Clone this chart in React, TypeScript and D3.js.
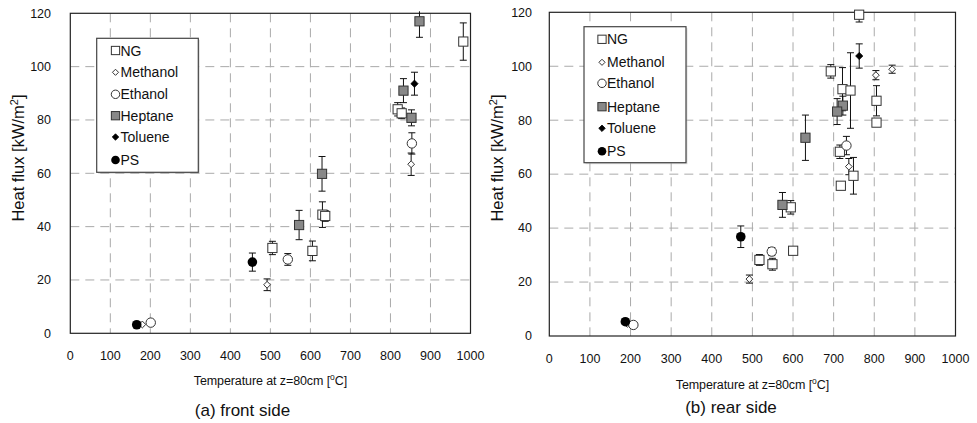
import React from "react";
import * as d3 from "d3";

// ---- data: [temperature °C, heat flux kW/m², error ±] ----
const xTicks = [0, 100, 200, 300, 400, 500, 600, 700, 800, 900, 1000];
const yTicks = [0, 20, 40, 60, 80, 100, 120];
const seriesNames = ["NG", "Methanol", "Ethanol", "Heptane", "Toluene", "PS"];

const frontNG = [[982, 109.4, 7], [818, 84, 2.5], [828, 82.5, 2], [630, 44.5, 4.8], [637, 44, 2], [605, 30.9, 3.7], [505, 32, 2.5]];
const frontMethanol = [[851.7, 63.4, 4.2], [491.7, 18.2, 2.2], [180, 3.3, 0]];
const frontEthanol = [[853.5, 71.2, 4], [543.5, 27.7, 2.2], [201, 4, 0]];
const frontHeptane = [[872.5, 117, 6], [832.5, 91, 4.5], [852.5, 80.8, 3], [629, 59.8, 6.5], [571.7, 40.6, 5.5]];
const frontToluene = [[860, 93.6, 4.3]];
const frontPS = [[455, 26.7, 3.4], [166, 3.2, 0]];

const rearNG = [[762.8, 119.1, 2.7], [693, 98.1, 2.5], [721.8, 91.5, 8], [741.5, 91, 14], [805.5, 87.2, 5.6], [805.5, 79.1, 0], [715.3, 68.3, 2.5], [748.8, 59.4, 6.8], [717.7, 55.7, 0], [594.5, 47.7, 2.5], [517.3, 28.2, 2], [549.3, 26.6, 2.2], [600.3, 31.6, 0]];
const rearMethanol = [[804, 96.7, 1.7], [844, 98.9, 1.5], [737.4, 62.8, 3], [492.6, 21.1, 1.5], [192, 4.5, 0]];
const rearEthanol = [[731.5, 70.6, 3.4], [547.7, 31.3, 1.5], [207, 4.1, 0]];
const rearHeptane = [[722.7, 85.4, 3.5], [708.6, 83.2, 4.8], [630.6, 73.5, 8.4], [574, 48.6, 4.6]];
const rearToluene = [[763, 103.8, 4.5]];
const rearPS = [[471.4, 36.8, 4], [187.2, 5.3, 1]];

const FONT = "'Liberation Sans', Arial, Helvetica, sans-serif";

function Marker({ name, x, y, s = 1 }: { name: string; x: number; y: number; s?: number }) {
  const stroke = "#333";
  switch (name) {
    case "NG":
      return <rect x={x - 4.6 * s} y={y - 4.6 * s} width={9.2 * s} height={9.2 * s} fill="#fff" stroke={stroke} strokeWidth={1} />;
    case "Heptane":
      return <rect x={x - 4.6 * s} y={y - 4.6 * s} width={9.2 * s} height={9.2 * s} fill="#888" stroke={stroke} strokeWidth={1} />;
    case "Methanol": {
      const r = 3.4 * s;
      return <path d={`M${x},${y - r}L${x + r},${y}L${x},${y + r}L${x - r},${y}Z`} fill="#fff" stroke={stroke} strokeWidth={1} />;
    }
    case "Toluene": {
      const r = 3.6 * s;
      return <path d={`M${x},${y - r}L${x + r},${y}L${x},${y + r}L${x - r},${y}Z`} fill="#000" stroke="#000" strokeWidth={0.8} />;
    }
    case "Ethanol":
      return <circle cx={x} cy={y} r={4.7 * s} fill="#fff" stroke={stroke} strokeWidth={1} />;
    case "PS":
      return <circle cx={x} cy={y} r={4.8 * s} fill="#000" />;
    default:
      return null;
  }
}

type Pt = number[];

function Panel({ left, right, top, bottom, series, legend, yTickRight, xTickBase, yLabelX, xTitleY, caption, captionY }: any) {
  const x = d3.scaleLinear().domain([0, 1000]).range([left, right]);
  const y = d3.scaleLinear().domain([0, 120]).range([bottom, top]);
  const cx = (left + right) / 2;
  return (
    <g fontFamily={FONT}>
      {/* grid */}
      {xTicks.slice(1, -1).map((t) => (
        <line key={"gx" + t} x1={x(t)} x2={x(t)} y1={top} y2={bottom} stroke="#aaa" strokeWidth={1} strokeDasharray="9,6" />
      ))}
      {yTicks.slice(1, -1).map((t) => (
        <line key={"gy" + t} x1={left} x2={right} y1={y(t)} y2={y(t)} stroke="#aaa" strokeWidth={1} strokeDasharray="9,6" />
      ))}
      <rect x={left} y={top} width={right - left} height={bottom - top} fill="none" stroke="#222" strokeWidth={1.2} />
      {/* ticks labels */}
      {yTicks.map((t) => (
        <text key={"yt" + t} x={yTickRight} y={y(t) + 4.3} textAnchor="end" fontSize={12.5} fill="#111">{t}</text>
      ))}
      {xTicks.map((t) => (
        <text key={"xt" + t} x={x(t)} y={xTickBase} textAnchor="middle" fontSize={12.5} fill="#111">{t}</text>
      ))}
      {/* axis titles */}
      <text transform={`translate(${yLabelX},${158}) rotate(-90)`} textAnchor="middle" fontSize={16.5} fill="#111">
        Heat flux [kW/m<tspan fontSize={11} dy={-6}>2</tspan><tspan dy={6}>]</tspan>
      </text>
      <text x={cx} y={xTitleY} textAnchor="middle" fontSize={12.5} fill="#111" letterSpacing={-0.1}>
        Temperature at z=80cm [<tspan fontSize={8.5} dy={-5}>o</tspan><tspan dy={5}>C]</tspan>
      </text>
      <text x={caption.x} y={captionY} textAnchor="middle" fontSize={17} fill="#111">{caption.text}</text>
      {/* data */}
      <g clipPath={undefined}>
        {series.map((s: any) =>
          s.data.map((d: Pt, i: number) =>
            d[2] > 0 ? (
              <g key={s.name + "e" + i} stroke="#111" strokeWidth={1}>
                <line x1={x(d[0])} x2={x(d[0])} y1={Math.max(y(d[1] + d[2]), top - 2)} y2={y(d[1] - d[2])} />
                {y(d[1] + d[2]) >= top - 2 && <line x1={x(d[0]) - 3.5} x2={x(d[0]) + 3.5} y1={y(d[1] + d[2])} y2={y(d[1] + d[2])} />}
                <line x1={x(d[0]) - 3.5} x2={x(d[0]) + 3.5} y1={y(d[1] - d[2])} y2={y(d[1] - d[2])} />
              </g>
            ) : null
          )
        )}
        {series.map((s: any) =>
          s.data.map((d: Pt, i: number) => <Marker key={s.name + "m" + i} name={s.name} x={x(d[0])} y={y(d[1])} />)
        )}
      </g>
      {/* legend */}
      <rect x={legend.x0 + 1.5} y={legend.y0 + 1.5} width={legend.x1 - legend.x0} height={legend.y1 - legend.y0} fill="#bbb" opacity={0.5} />
      <rect x={legend.x0} y={legend.y0} width={legend.x1 - legend.x0} height={legend.y1 - legend.y0} fill="#fff" stroke="#444" strokeWidth={1.2} />
      {seriesNames.map((n, i) => (
        <g key={"lg" + n}>
          <Marker name={n} x={legend.mx} y={legend.ys[i]} s={0.9} />
          <text x={legend.tx} y={legend.ys[i] + 5} fontSize={14} fill="#111">{n}</text>
        </g>
      ))}
    </g>
  );
}

export default function App() {
  const frontSeries = [
    { name: "NG", data: frontNG },
    { name: "Methanol", data: frontMethanol },
    { name: "Ethanol", data: frontEthanol },
    { name: "Heptane", data: frontHeptane },
    { name: "Toluene", data: frontToluene },
    { name: "PS", data: frontPS },
  ];
  const rearSeries = [
    { name: "NG", data: rearNG },
    { name: "Methanol", data: rearMethanol },
    { name: "Ethanol", data: rearEthanol },
    { name: "Heptane", data: rearHeptane },
    { name: "Toluene", data: rearToluene },
    { name: "PS", data: rearPS },
  ];
  return (
    <svg width={977} height={423} style={{ position: "absolute", left: 0, top: 0, background: "#fff" }}>
      <rect width={977} height={423} fill="#fff" />
      <Panel
        left={70.3} right={470.5} top={13.3} bottom={333.3}
        series={frontSeries}
        legend={{ x0: 96.7, x1: 198.3, y0: 38.3, y1: 172.3, mx: 115.5, tx: 120.5, ys: [50.5, 72.3, 94.3, 115.7, 137, 160] }}
        yTickRight={51} xTickBase={360} yLabelX={24} xTitleY={385}
        caption={{ x: 242.5, text: "(a) front side" }} captionY={416}
      />
      <Panel
        left={549.3} right={955.5} top={12.3} bottom={336}
        series={rearSeries}
        legend={{ x0: 584, x1: 686, y0: 26.7, y1: 162.7, mx: 602, tx: 607, ys: [39.3, 62.3, 83.3, 106.7, 128.3, 151.2] }}
        yTickRight={532} xTickBase={362.5} yLabelX={503} xTitleY={389}
        caption={{ x: 731, text: "(b) rear side" }} captionY={413}
      />
    </svg>
  );
}
